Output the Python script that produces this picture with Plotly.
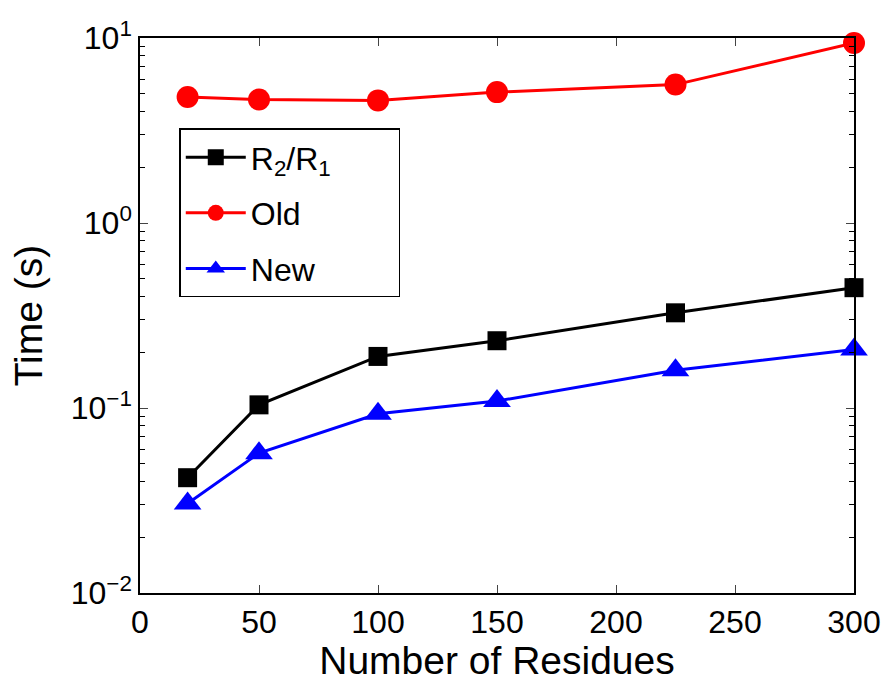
import plotly.graph_objects as go

residues = [20, 50, 100, 150, 225, 300]
r2r1 = [0.042, 0.104, 0.190, 0.231, 0.327, 0.447]
old = [4.8, 4.65, 4.6, 5.1, 5.6, 9.4]
new = [0.0305, 0.057, 0.093, 0.109, 0.160, 0.207]

names = ["R<sub>2</sub>/R<sub>1</sub>" + "\u00a0" * 7, "Old", "New"]
series = [r2r1, old, new]
colors = ["#000000", "#ff0000", "#0000ff"]
symbols = ["square", "circle", "triangle-up"]
sizes = [19, 22, 24]

yticks = [0.01, 0.1, 1, 10]
yticktext = ["10<sup>\u22122</sup>", "10<sup>\u22121</sup>", "10<sup>0</sup>", "10<sup>1</sup>"]
xticks = [0, 50, 100, 150, 200, 250, 300]

minor_vals = [m * 10 ** e for e in (-2, -1, 0) for m in range(2, 10)]

fig = go.Figure()
for i, (name, ys, c, s, sz) in enumerate(zip(names, series, colors, symbols, sizes)):
    fig.add_trace(go.Scatter(
        x=residues, y=ys, name=name, mode="lines+markers",
        legendgroup="g%d" % i,
        line=dict(color=c, width=3),
        marker=dict(symbol=s, size=sz, color=c, line=dict(width=0)),
        cliponaxis=False,
    ))

font = "Liberation Sans, Arial, Helvetica, sans-serif"
fig.update_layout(
    width=885, height=682,
    paper_bgcolor="white", plot_bgcolor="white",
    margin=dict(l=140, r=31, t=38, b=89, autoexpand=False),
    font=dict(family=font, size=32, color="black"),
    showlegend=True,
    legend=dict(
        x=0.055, y=0.837, xanchor="left", yanchor="top",
        bordercolor="black", borderwidth=1.5, bgcolor="white",
        font=dict(size=32), itemsizing="trace",
        tracegroupgap=11, itemwidth=60,
    ),
    xaxis=dict(
        range=[0, 300], tickvals=xticks, ticks="inside", ticklen=8,
        showline=True, linecolor="black", linewidth=1.5, mirror="ticks",
        showgrid=False, zeroline=False, tickfont=dict(size=32), automargin=False,
        title=dict(text="Number of Residues", font=dict(size=39), standoff=0),
    ),
    yaxis=dict(
        type="log", range=[-2, 1], tickvals=yticks, ticktext=yticktext,
        ticks="inside", ticklen=8,
        showline=True, linecolor="black", linewidth=1.5, mirror="ticks",
        showgrid=False, zeroline=False, tickfont=dict(size=32), automargin=False,
        minor=dict(tickvals=minor_vals, ticks="inside", ticklen=5, showgrid=False, tickcolor="black"),
        title=dict(text="Time (s)", font=dict(size=39), standoff=16),
    ),
)

fig.write_html("out.html")
